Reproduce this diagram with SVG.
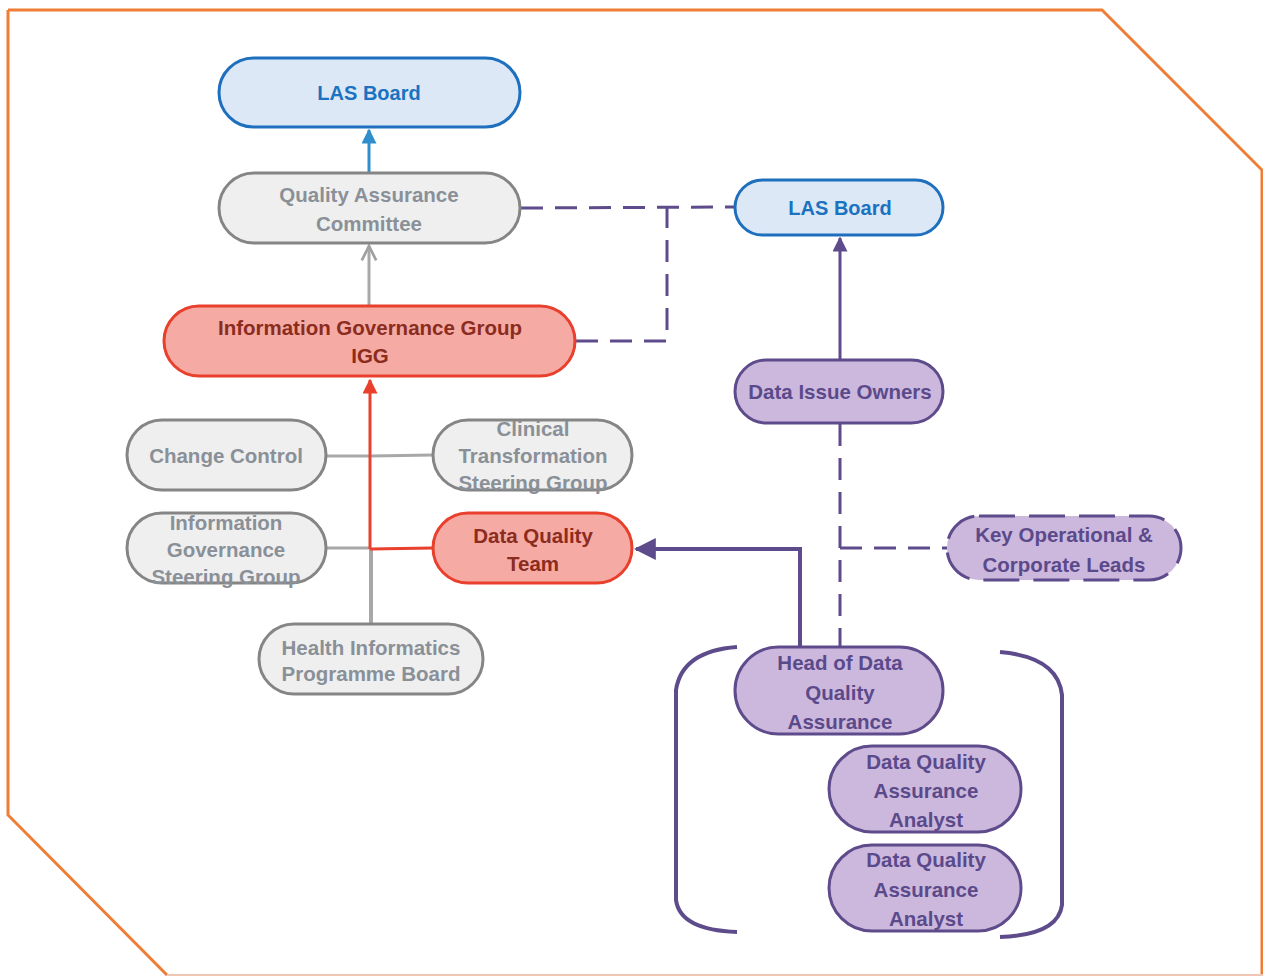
<svg xmlns="http://www.w3.org/2000/svg" width="1263" height="976" viewBox="0 0 1263 976">
<defs>
<style>
.t{font-family:"Liberation Sans",Arial,sans-serif;font-weight:bold;font-size:20.5px;text-anchor:middle}
.lb{font-size:20px}
.blue rect{fill:#dce8f5;stroke:#1e6fbe;stroke-width:3}
.blue text{fill:#1a72c0}
.gray rect{fill:#efefef;stroke:#858585;stroke-width:3}
.gray text{fill:#8a9098}
.red rect{fill:#f5aba4;stroke:#e8402c;stroke-width:3}
.red text{fill:#8b2c1e}
.pur rect{fill:#ccb8dc;stroke:#5e4b8b;stroke-width:3}
.pur text{fill:#5b4a8b}
.dash{fill:none;stroke:#5e4b8b;stroke-width:3;stroke-dasharray:22,12}
</style>
<marker id="aBlue" viewBox="0 0 10 10" refX="9" refY="5" markerWidth="5" markerHeight="5" orient="auto"><path d="M0,0 L10,5 L0,10 Z" fill="#2f8ecb"/></marker>
<marker id="aRed" viewBox="0 0 10 10" refX="9" refY="5" markerWidth="5" markerHeight="5" orient="auto"><path d="M0,0 L10,5 L0,10 Z" fill="#e8402c"/></marker>
<marker id="aPur" viewBox="0 0 10 10" refX="9" refY="5" markerWidth="5" markerHeight="5" orient="auto"><path d="M0,0 L10,5 L0,10 Z" fill="#5e4b8b"/></marker>
<marker id="aPurBig" viewBox="0 0 10 10" refX="9" refY="5" markerWidth="5.5" markerHeight="5.5" orient="auto"><path d="M0,0 L10,5 L0,10 Z" fill="#5e4b8b"/></marker>
<marker id="aGray" viewBox="0 0 10 10" refX="9" refY="5" markerWidth="6" markerHeight="6" orient="auto"><path d="M1,1 L9,5 L1,9" fill="none" stroke="#a0a0a0" stroke-width="1.5"/></marker>
</defs>
<rect width="1263" height="976" fill="#ffffff"/>
<path id="frame" d="M8,10 L1102,10 L1262,170 L1262,976 M8,10 L8,815 L167,975" fill="none" stroke="#ef7d35" stroke-width="3"/>
<line x1="167" y1="975" x2="1263" y2="975" stroke="#f2c6b4" stroke-width="2"/>

<g id="connectors">
<line x1="369" y1="173" x2="369" y2="130" stroke="#2f8ecb" stroke-width="3" marker-end="url(#aBlue)"/>
<line x1="369" y1="306" x2="369" y2="246" stroke="#a8a8a8" stroke-width="3" marker-end="url(#aGray)"/>
<line x1="371" y1="549" x2="371" y2="624" stroke="#a8a8a8" stroke-width="4"/>
<polyline points="326,456 371,456 433,455" fill="none" stroke="#a8a8a8" stroke-width="3"/>
<line x1="326" y1="548" x2="371" y2="548" stroke="#a8a8a8" stroke-width="3"/>
<line x1="370" y1="549" x2="370" y2="380" stroke="#e8402c" stroke-width="3" marker-end="url(#aRed)"/>
<line x1="370" y1="549" x2="433" y2="548" stroke="#e8402c" stroke-width="3"/>
<line x1="840" y1="360" x2="840" y2="238" stroke="#5e4b8b" stroke-width="3" marker-end="url(#aPur)"/>
<polyline points="800,647 800,549 636,549" fill="none" stroke="#5e4b8b" stroke-width="4" marker-end="url(#aPurBig)"/>
<path class="dash" d="M521,208 L735,207"/>
<path class="dash" d="M576,341 L667,341 L667,208"/>
<path class="dash" d="M840,424 L840,647"/>
<path class="dash" d="M840,548 L947,548"/>
<path d="M737,647 Q682,651 676,690 L676,900 Q680,930 737,932" fill="none" stroke="#5e4b8b" stroke-width="4"/>
<path d="M1000,652 Q1058,657 1062,695 L1062,905 Q1058,935 1000,937" fill="none" stroke="#5e4b8b" stroke-width="4"/>
</g>

<g id="las-board-top" class="blue"><rect x="219" y="58" width="301" height="69" rx="34.5"/><text class="t lb" x="369" y="100">LAS Board</text></g>
<g id="qac" class="gray"><rect x="219" y="173" width="301" height="70" rx="35"/><text class="t" x="369" y="202">Quality Assurance</text><text class="t" x="369" y="231">Committee</text></g>
<g id="las-board-right" class="blue"><rect x="735" y="180" width="208" height="55" rx="27.5"/><text class="t lb" x="840" y="215">LAS Board</text></g>
<g id="igg" class="red"><rect x="164" y="306" width="411" height="70" rx="35"/><text class="t" x="370" y="335">Information Governance Group</text><text class="t" x="370" y="363">IGG</text></g>
<g id="data-issue-owners" class="pur"><rect x="735" y="360" width="208" height="63" rx="31.5"/><text class="t" x="840" y="399">Data Issue Owners</text></g>
<g id="change-control" class="gray"><rect x="127" y="420" width="199" height="70" rx="35"/><text class="t" x="226" y="463">Change Control</text></g>
<g id="ctsg" class="gray"><rect x="433" y="420" width="199" height="70" rx="35"/><text class="t" x="533" y="436">Clinical</text><text class="t" x="533" y="463">Transformation</text><text class="t" x="533" y="490">Steering Group</text></g>
<g id="igsg" class="gray"><rect x="127" y="513" width="199" height="70" rx="35"/><text class="t" x="226" y="530">Information</text><text class="t" x="226" y="557">Governance</text><text class="t" x="226" y="584">Steering Group</text></g>
<g id="dqt" class="red"><rect x="433" y="513" width="199" height="70" rx="35"/><text class="t" x="533" y="543">Data Quality</text><text class="t" x="533" y="571">Team</text></g>
<g id="key-op" class="pur"><rect x="947" y="516" width="234" height="64" rx="32" style="stroke-dasharray:36,14"/><text class="t" x="1064" y="542">Key Operational &amp;</text><text class="t" x="1064" y="572">Corporate Leads</text></g>
<g id="hipb" class="gray"><rect x="259" y="624" width="224" height="70" rx="35"/><text class="t" x="371" y="655">Health Informatics</text><text class="t" x="371" y="681">Programme Board</text></g>
<g id="head-dqa" class="pur"><rect x="735" y="647" width="208" height="87" rx="43.5"/><text class="t" x="840" y="670">Head of Data</text><text class="t" x="840" y="700">Quality</text><text class="t" x="840" y="729">Assurance</text></g>
<g id="dqa-analyst-1" class="pur"><rect x="829" y="746" width="192" height="86" rx="43"/><text class="t" x="926" y="769">Data Quality</text><text class="t" x="926" y="798">Assurance</text><text class="t" x="926" y="827">Analyst</text></g>
<g id="dqa-analyst-2" class="pur"><rect x="829" y="845" width="192" height="86" rx="43"/><text class="t" x="926" y="867">Data Quality</text><text class="t" x="926" y="897">Assurance</text><text class="t" x="926" y="926">Analyst</text></g>
</svg>
